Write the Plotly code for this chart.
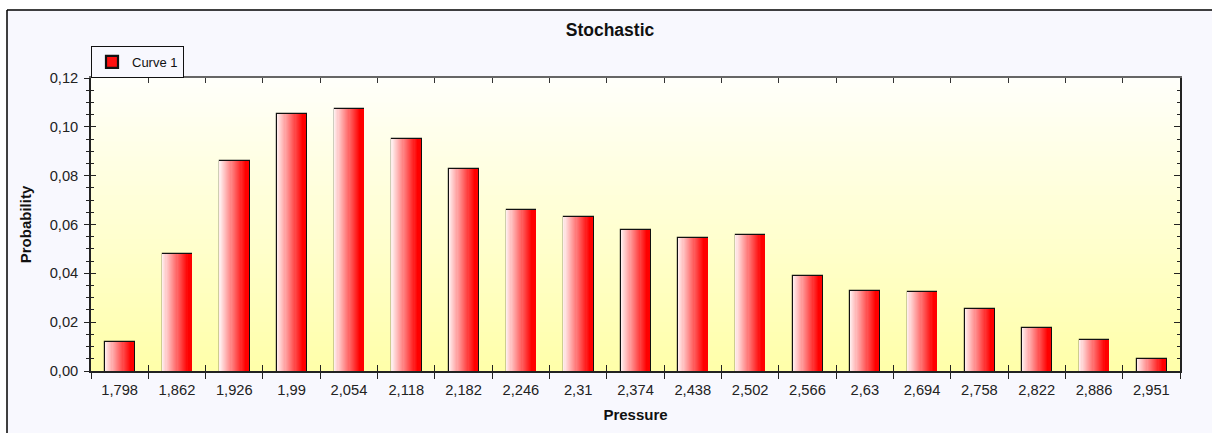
import plotly.graph_objects as go

# ---- data ----
pressure = ["1,798", "1,862", "1,926", "1,99", "2,054", "2,118", "2,182", "2,246", "2,31",
            "2,374", "2,438", "2,502", "2,566", "2,63", "2,694", "2,758", "2,822", "2,886", "2,951"]
probability = [0.0117, 0.0479, 0.0859, 0.1053, 0.1075, 0.0950, 0.0829, 0.0660, 0.0630,
               0.0577, 0.0543, 0.0555, 0.0389, 0.0327, 0.0323, 0.0252, 0.0176, 0.0128, 0.0048]
series_name = "Curve 1"
y_ticks = [0.00, 0.02, 0.04, 0.06, 0.08, 0.10, 0.12]

FONT = "Liberation Sans, Arial, sans-serif"
W, H = 1212, 433
ML, MR, MT, MB = 91, 32, 78, 62
BAR_W = 0.5
TICK_FS = 14.7

def lerp(c1, c2, t):
    return "rgb(%d,%d,%d)" % tuple(round(a + (b - a) * t) for a, b in zip(c1, c2))

fig = go.Figure()

# outline bar (drawn first, carries the legend entry)
fig.add_trace(go.Bar(
    x=pressure, y=probability, name=series_name, width=BAR_W,
    marker=dict(color="#ff1010", line=dict(color="#111111", width=2.2)),
    showlegend=True, hoverinfo="x+y",
))

# horizontal gradient made from thin overlaid slices
N = 26
step = BAR_W / N
for i in range(N):
    off = -BAR_W / 2 + i * step
    w = min(step * 1.6, BAR_W / 2 - off)
    t = i / (N - 1)
    col = lerp((255, 236, 236), (255, 0, 0), min(1.0, t / 0.92))
    fig.add_trace(go.Bar(
        x=pressure, y=probability, width=w, offset=off,
        marker=dict(color=col, line=dict(width=0)),
        showlegend=False, hoverinfo="skip",
    ))

# invisible helpers so the mirror axes exist
fig.add_trace(go.Scatter(x=pressure, y=probability, xaxis="x2", yaxis="y2", mode="markers",
                         marker=dict(opacity=0), showlegend=False, hoverinfo="skip"))
fig.add_trace(go.Scatter(x=pressure, y=probability, xaxis="x3", yaxis="y3", mode="markers",
                         marker=dict(opacity=0), showlegend=False, hoverinfo="skip"))

# plot-area vertical gradient
shapes = []
NG = 60
for j in range(NG):
    t = j / (NG - 1)
    shapes.append(dict(type="rect", xref="paper", yref="paper", layer="below",
                       x0=0, x1=1, y0=j / NG, y1=min(1, (j + 1.5) / NG),
                       fillcolor=lerp((255, 255, 170), (255, 255, 250), t),
                       line=dict(width=0)))

# outer frame: white outside, black left/top lines
px = lambda p: (p - ML) / (W - ML - MR)
py = lambda p: (H - MB - p) / (H - MT - MB)
shapes.append(dict(type="rect", xref="paper", yref="paper", layer="below",
                   x0=px(-5), x1=px(7), y0=py(H + 5), y1=py(-5),
                   fillcolor="white", line=dict(width=0)))
shapes.append(dict(type="rect", xref="paper", yref="paper", layer="below",
                   x0=px(-5), x1=px(W + 5), y0=py(10), y1=py(-5),
                   fillcolor="white", line=dict(width=0)))
shapes.append(dict(type="line", xref="paper", yref="paper",
                   x0=px(7), x1=px(7), y0=py(H + 5), y1=py(10),
                   line=dict(color="black", width=1.5)))
shapes.append(dict(type="line", xref="paper", yref="paper",
                   x0=px(7), x1=px(W + 5), y0=py(10), y1=py(10),
                   line=dict(color="black", width=1.5)))

cat_axis = dict(type="category", categoryorder="array", categoryarray=pressure,
                range=[-0.5, len(pressure) - 0.5], tickson="boundaries")
val_axis = dict(range=[0, 0.12], tickvals=y_ticks)

fig.update_layout(
    width=W, height=H,
    margin=dict(l=ML, r=MR, t=MT, b=MB),
    paper_bgcolor="#f8f8fe",
    plot_bgcolor="#ffffe0",
    separators=", ",
    barmode="overlay",
    bargap=0,
    font=dict(family=FONT, size=TICK_FS, color="#222222"),
    title=dict(text="<b>Stochastic</b>", x=610 / W, xref="container", xanchor="center",
               y=1 - 30 / H, yref="container", yanchor="middle",
               font=dict(family=FONT, size=17.5, color="#111111")),
    showlegend=True,
    legend=dict(x=0, xanchor="left", y=py(46), yanchor="top", xref="paper", yref="paper",
                bgcolor="#f8f8fe", bordercolor="#111111", borderwidth=1,
                font=dict(family=FONT, size=13, color="#111111"),
                itemwidth=30, tracegroupgap=0, itemclick=False),
    shapes=shapes,
    xaxis=dict(**cat_axis, ticks="outside", ticklen=6, tickcolor="#222222",
               showline=True, linecolor="#222222", linewidth=1.5, showgrid=False,
               zeroline=False, ticklabelstandoff=5,
               tickfont=dict(family=FONT, size=TICK_FS, color="#222222"),
               title=dict(text="<b>Pressure</b>", standoff=12,
                          font=dict(family=FONT, size=15, color="#111111"))),
    xaxis2=dict(**cat_axis, overlaying="x", side="top", anchor="y", ticks="inside",
                ticklen=5, tickcolor="#333333", showline=True, linecolor="#666666",
                linewidth=1.5, showticklabels=False, showgrid=False, zeroline=False),
    xaxis3=dict(**cat_axis, overlaying="x", side="bottom", anchor="y", ticks="inside",
                ticklen=6, tickcolor="#222222", showline=False,
                showticklabels=False, showgrid=False, zeroline=False),
    yaxis=dict(**val_axis, ticks="outside", ticklen=5, tickcolor="#222222",
               tickformat=".2f", showline=True, linecolor="#222222", linewidth=1.5,
               showgrid=False, zeroline=False, ticklabelstandoff=3,
               minor=dict(dtick=0.005, ticks="outside", ticklen=3, tickcolor="#222222",
                          showgrid=False),
               tickfont=dict(family=FONT, size=TICK_FS, color="#222222"),
               title=dict(text="<b>Probability</b>", standoff=14,
                          font=dict(family=FONT, size=15, color="#111111"))),
    yaxis2=dict(**val_axis, overlaying="y", side="right", anchor="x", ticks="inside",
                ticklen=6, tickcolor="#222222", showline=True, linecolor="#222222",
                linewidth=1.5, showticklabels=False, showgrid=False, zeroline=False,
                minor=dict(dtick=0.005, ticks="inside", ticklen=3, tickcolor="#222222",
                           showgrid=False)),
    yaxis3=dict(**val_axis, overlaying="y", side="left", anchor="x", ticks="inside",
                ticklen=5, tickcolor="#222222", showline=False,
                showticklabels=False, showgrid=False, zeroline=False,
                minor=dict(dtick=0.005, ticks="inside", ticklen=3, tickcolor="#222222",
                           showgrid=False)),
)

fig.write_html("out.html", config={"displayModeBar": False},
               post_script="document.body.style.margin='0';")
